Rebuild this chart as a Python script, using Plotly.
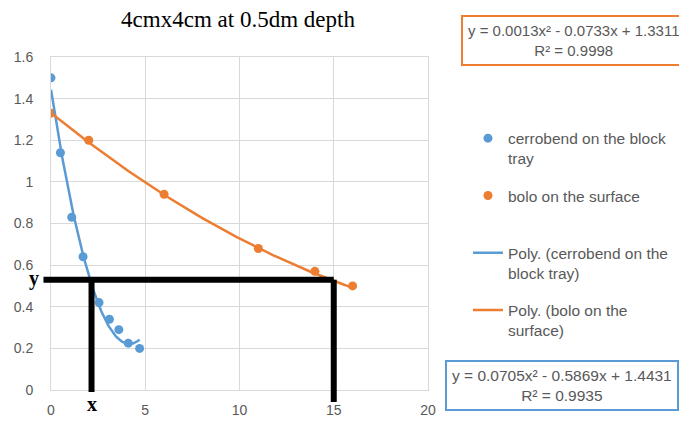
import numpy as np
import plotly.graph_objects as go

# ---- data ----
cerro_x = [0, 0.5, 1.1, 1.7, 2.55, 3.1, 3.6, 4.1, 4.7]
cerro_y = [1.5, 1.14, 0.83, 0.64, 0.42, 0.34, 0.29, 0.225, 0.20]
bolo_x = [0, 2, 6, 11, 14, 16]
bolo_y = [1.33, 1.2, 0.94, 0.68, 0.57, 0.50]

# trendline coefficients shown in the chart (a, b, c for a*x^2 + b*x + c)
cerro_coef = [0.0705, -0.5869, 1.4431]
cerro_r2 = 0.9935
bolo_coef = [0.0013, -0.0733, 1.3311]
bolo_r2 = 0.9998

# reading lines drawn on the chart
read_y = 0.53
read_x_cerro = 2.15
read_x_bolo = 15

x_ticks = [0, 5, 10, 15, 20]
y_ticks = [0, 0.2, 0.4, 0.6, 0.8, 1.0, 1.2, 1.4, 1.6]

title_text = "4cmx4cm at 0.5dm depth"
name_cerro = "cerrobend on the block<br>tray"
name_bolo = "bolo on the surface<br>\u00a0"
name_cerro_poly = "Poly. (cerrobend on the<br>block tray)"
name_bolo_poly = "Poly. (bolo on the<br>surface)"

BLUE = "#5B9BD5"
ORANGE = "#ED7D31"
GREY = "#595959"
GRID = "#D9D9D9"
FONT = "Liberation Sans"

def trend(xs, coef):
    xx = np.linspace(min(xs), max(xs), 100)
    return xx, np.polyval(coef, xx)

cx, cy = trend(cerro_x, cerro_coef)
bx, by = trend(bolo_x, bolo_coef)

fig = go.Figure()
fig.add_trace(go.Scatter(x=cerro_x, y=cerro_y, mode="markers", name=name_cerro,
                         marker=dict(color=BLUE, size=9), legendgroup="g1"))
fig.add_trace(go.Scatter(x=bolo_x, y=bolo_y, mode="markers", name=name_bolo,
                         marker=dict(color=ORANGE, size=9), legendgroup="g2"))
fig.add_trace(go.Scatter(x=cx, y=cy, mode="lines", name=name_cerro_poly,
                         line=dict(color=BLUE, width=2.5), legendgroup="g3"))
fig.add_trace(go.Scatter(x=bx, y=by, mode="lines", name=name_bolo_poly,
                         line=dict(color=ORANGE, width=2.5), legendgroup="g4"))

xmin, xmax = x_ticks[0], x_ticks[-1]
ymin, ymax = y_ticks[0], y_ticks[-1]
def dx(v):
    return (v - xmin) / (xmax - xmin)
def dy(v):
    return (v - ymin) / (ymax - ymin)

line_style = dict(color="black", width=6)
fig.add_shape(type="line", xref="x domain", yref="y domain",
              x0=-0.02, x1=dx(read_x_bolo), y0=dy(read_y), y1=dy(read_y), line=line_style)
fig.add_shape(type="line", xref="x domain", yref="y domain",
              x0=dx(read_x_cerro), x1=dx(read_x_cerro), y0=dy(read_y), y1=-0.006, line=line_style)
fig.add_shape(type="line", xref="x domain", yref="y domain",
              x0=dx(read_x_bolo), x1=dx(read_x_bolo), y0=dy(read_y), y1=-0.036, line=line_style)

fig.add_annotation(text="<b>y</b>", xref="paper", yref="paper", x=-0.063, y=dy(read_y) + 0.005,
                   showarrow=False, font=dict(family="Liberation Serif", size=20, color="black"))
fig.add_annotation(text="<b>x</b>", xref="x", yref="paper", x=read_x_cerro, y=-0.08,
                   showarrow=False, font=dict(family="Liberation Serif", size=20, color="black"))

def eq_text(coef, r2):
    return (f"y = {coef[0]:.4f}x² - {abs(coef[1]):.4f}x + {coef[2]:.4f}"
            f"<br>R² = {r2:.4f}")

fig.add_annotation(text=eq_text(bolo_coef, bolo_r2), xref="paper", yref="paper",
                   x=1.0875, y=1.051, xanchor="left", yanchor="middle", showarrow=False,
                   align="center", bordercolor=ORANGE, borderwidth=2, borderpad=5,
                   bgcolor="white", font=dict(family=FONT, size=15, color=GREY))
fig.add_annotation(text=eq_text(cerro_coef, cerro_r2), xref="paper", yref="paper",
                   x=1.045, y=0.015, xanchor="left", yanchor="middle", showarrow=False,
                   align="center", bordercolor=BLUE, borderwidth=2, borderpad=5,
                   bgcolor="white", font=dict(family=FONT, size=15.5, color=GREY))

# the page has an 8px body margin; margins are offset to compensate
fig.update_layout(
    width=687, height=423,
    margin=dict(l=43, r=267, t=49, b=41),
    paper_bgcolor="white", plot_bgcolor="white",
    title=dict(text=title_text, x=230 / 687, xanchor="center", y=0.974, yanchor="middle",
               font=dict(family="Liberation Serif", size=23, color="black")),
    legend=dict(x=1.106, y=0.806, xanchor="left", yanchor="top", valign="top",
                traceorder="grouped",
                font=dict(family=FONT, size=15.5, color=GREY),
                tracegroupgap=14, bgcolor="rgba(0,0,0,0)"),
    xaxis=dict(range=[xmin, xmax], tickvals=x_ticks, showgrid=True, gridcolor=GRID,
               zeroline=False, showline=True, linecolor=GRID, mirror=True, automargin=False,
               tickfont=dict(family=FONT, size=14, color=GREY), ticklabelstandoff=7),
    yaxis=dict(range=[ymin, ymax], tickvals=y_ticks, showgrid=True, gridcolor=GRID,
               zeroline=False, showline=True, linecolor=GRID, mirror=True, automargin=False,
               tickfont=dict(family=FONT, size=14, color=GREY), ticklabelstandoff=14),
)

fig.write_html("out.html")
